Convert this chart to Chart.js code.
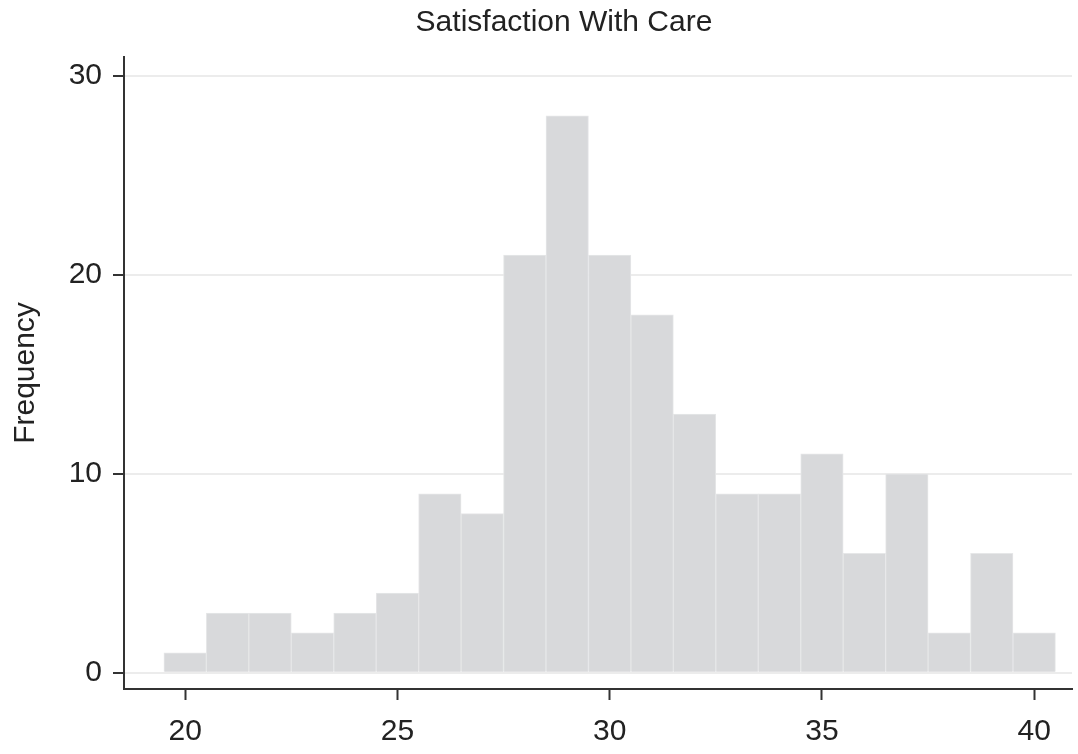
<!DOCTYPE html>
<html lang="en">
<head>
  <meta charset="UTF-8" />
  <title>Satisfaction With Care</title>
  <script src="https://cdn.jsdelivr.net/npm/chart.js"></script>
  <style>
    body {
      margin: 0;
      background: #ffffff;
    }
    #histogram {
      display: block;
    }
  </style>
</head>
<body>
  <canvas id="histogram" width="1078" height="754"></canvas>

  <script>
    // histogram data (bin centre -> count)
    const binCenters = [20, 21, 22, 23, 24, 25, 26, 27, 28, 29, 30, 31, 32, 33, 34, 35, 36, 37, 38, 39, 40];
    const frequencies = [1, 3, 3, 2, 3, 4, 9, 8, 21, 28, 21, 18, 13, 9, 9, 11, 6, 10, 2, 6, 2];
    const xTickValues = [20, 25, 30, 35, 40];
    const yTickValues = [0, 10, 20, 30];
    const chartTitle = 'Satisfaction With Care';
    const yAxisTitle = 'Frequency';

    const FONT = "'Liberation Sans', Arial, Helvetica, sans-serif";
    const TEXT = '#222222';
    const AXIS = '#333333';

    const points = binCenters.map((c, i) => ({ x: c, y: frequencies[i] }));

    // title drawn by hand so it can sit off-centre like the original
    const titlePlugin = {
      id: 'titleAt',
      afterDraw(chart) {
        const ctx = chart.ctx;
        ctx.save();
        ctx.font = '30px ' + FONT;
        ctx.fillStyle = TEXT;
        ctx.textAlign = 'center';
        ctx.textBaseline = 'middle';
        ctx.fillText(chartTitle, 564, 23);
        ctx.restore();
      }
    };

    new Chart(document.getElementById('histogram'), {
      type: 'bar',
      data: {
        datasets: [{
          label: 'Frequency',
          data: points,
          backgroundColor: '#d8d9db',
          borderColor: '#e6e7e8',
          borderWidth: 1,
          categoryPercentage: 1.0,
          barPercentage: 1.0
        }]
      },
      options: {
        responsive: false,
        animation: false,
        layout: { padding: { top: 57, right: 6, left: 0, bottom: 0 } },
        plugins: {
          legend: { display: false },
          title: { display: false },
          tooltip: { enabled: false }
        },
        scales: {
          x: {
            type: 'linear',
            min: 18.56,
            max: 40.89,
            offset: false,
            grid: {
              offset: false,
              drawOnChartArea: false,
              drawTicks: true,
              tickLength: 11,
              tickColor: AXIS,
              tickWidth: 2
            },
            border: { display: true, color: AXIS, width: 2 },
            ticks: {
              padding: 14,
              color: TEXT,
              font: { family: FONT, size: 30 },
              maxRotation: 0
            },
            afterBuildTicks(scale) {
              scale.ticks = xTickValues.map(v => ({ value: v }));
            },
            afterFit(scale) {
              scale.height = 754 - 689;
            }
          },
          y: {
            min: -0.82,
            max: 30.96,
            grid: {
              color: '#ececec',
              lineWidth: 2,
              drawTicks: true,
              tickLength: 11,
              tickColor: AXIS,
              tickWidth: 2
            },
            border: { display: true, color: AXIS, width: 2 },
            ticks: {
              padding: 11,
              color: TEXT,
              font: { family: FONT, size: 30 }
            },
            title: {
              display: true,
              text: yAxisTitle,
              color: TEXT,
              font: { family: FONT, size: 30 },
              padding: { top: 8, bottom: 0 }
            },
            afterBuildTicks(scale) {
              scale.ticks = yTickValues.map(v => ({ value: v }));
            },
            afterFit(scale) {
              scale.width = 124;
            }
          }
        }
      },
      plugins: [titlePlugin]
    });
  </script>
</body>
</html>
